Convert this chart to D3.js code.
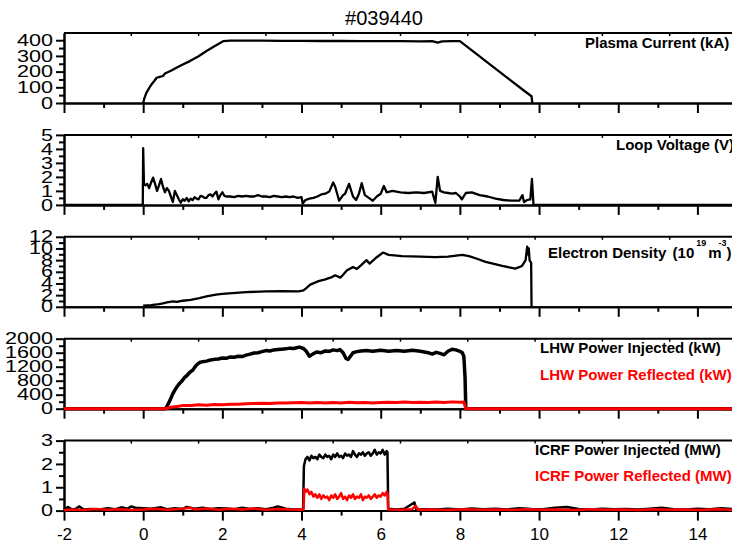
<!DOCTYPE html>
<meta charset="utf-8">

<head>
  <title>#039440</title>
  <style>
    body {
      margin: 0;
      background: #fff;
    }

    svg {
      display: block;
      font-family: Arial, "Liberation Sans", sans-serif;
    }
  </style>

  <script src="https://d3js.org/d3.v7.min.js"></script>
</head>

<body>
  <svg width="732" height="543"></svg>

  <script>

    // Plasma current (kA)
    var ipTime = [0, 0.03, 0.08, 0.15, 0.21, 0.28, 0.34, 0.42, 0.5, 0.55, 0.7, 0.84, 1.0, 1.18, 1.4, 1.6, 1.8, 2.02,
      2.2, 2.5, 3, 3.5, 4, 4.5, 5, 5.5, 6, 6.5, 7, 7.3, 7.44, 7.55, 7.8, 8.0, 8.4, 8.8, 9.2, 9.64, 9.81, 9.83];
    var ipVals = [0, 30, 65, 95, 118, 140, 161, 167, 172, 188, 205, 225, 245, 267, 298, 331, 362, 394,
      397, 398, 397, 396, 396, 395, 395, 394, 394, 394, 393, 394, 385, 393, 394, 394, 316, 238, 160, 75, 43, 0];

    // Loop voltage (V)
    var vlTime = [-2, -0.01, 0, 0.02, 0.05, 0.1, 0.15, 0.2, 0.25, 0.3, 0.35, 0.4, 0.45, 0.5, 0.55, 0.6, 0.65, 0.7,
      0.75, 0.8, 0.85, 0.9, 0.95, 1.0, 1.05, 1.1, 1.15, 1.2, 1.25, 1.3, 1.35, 1.4, 1.45, 1.5, 1.55, 1.6, 1.65, 1.7,
      1.75, 1.8, 1.85, 1.9, 1.95, 2.0, 2.05, 2.1, 2.2, 2.3, 2.4, 2.5, 2.6, 2.7, 2.8, 2.9, 3.0, 3.1, 3.2, 3.3, 3.4,
      3.5, 3.6, 3.7, 3.8, 3.9, 4.0, 4.03, 4.1, 4.2, 4.3, 4.4, 4.5, 4.6, 4.7, 4.8, 4.85, 4.95, 5.05, 5.1, 5.2, 5.3,
      5.38, 5.45, 5.52, 5.6, 5.7, 5.8, 5.9, 6.0, 6.08, 6.15, 6.3, 6.5, 6.7, 6.9, 7.1, 7.3, 7.38, 7.44, 7.5, 7.6,
      7.7, 7.8, 7.9, 8.0, 8.05, 8.15, 8.3, 8.5, 8.7, 8.9, 9.1, 9.3, 9.5, 9.58, 9.62, 9.7, 9.78, 9.82, 9.86, 15];
    var vlVals = [0, 0, 4.05, 1.5, 1.4, 1.5, 1.2, 1.6, 1.95, 1.5, 1.0, 1.4, 1.85, 1.3, 0.9, 1.2, 1.0, 0.6,
      0.2, 1.0, 0.7, 0.4, 0.15, 0.4, 0.3, 0.5, 0.25, 0.45, 0.35, 0.55, 0.45, 0.4, 0.65, 0.6, 0.5, 0.5, 0.7, 0.75,
      0.6, 0.8, 0.95, 0.4, 0.7, 0.9, 0.65, 0.6, 0.6, 0.55, 0.65, 0.6, 0.65, 0.6, 0.6, 0.7, 0.6, 0.6, 0.55, 0.65, 0.6,
      0.55, 0.6, 0.55, 0.6, 0.5, 0.55, 0.1, 0.35, 0.45, 0.5, 0.6, 0.75, 0.8, 0.95, 1.6, 1.3, 0.3, 0.7, 0.8, 1.5, 0.6,
      0.35, 0.8, 1.55, 0.7, 0.5, 0.3, 0.6, 0.8, 1.35, 0.9, 1.0, 0.9, 0.85, 0.9, 0.85, 0.95, 0.15, 2.0, 1.0, 0.9,
      0.85, 0.8, 0.85, 0.6, 0.4, 0.85, 0.9, 0.7, 0.6, 0.45, 0.35, 0.3, 0.3, 0.7, 0.2, 0.35, 0.4, 1.85, 0, 0];

    // Electron density (1e19 m^-3)
    var neTime = [0, 0.2, 0.4, 0.5, 0.6, 0.76, 0.85, 1.0, 1.2, 1.42, 1.6, 1.84, 2.0, 2.25, 2.6, 3.1, 3.5, 3.93, 4.05,
      4.12, 4.22, 4.43, 4.6, 4.77, 4.85, 4.98, 5.05, 5.15, 5.3, 5.4, 5.5, 5.64, 5.72, 5.9, 6.06, 6.2, 6.54, 7.0,
      7.38, 7.7, 8.06, 8.23, 8.45, 8.65, 9.07, 9.4, 9.57, 9.66, 9.7, 9.72, 9.74, 9.76, 9.8, 9.81];
    var neVals = [0.2, 0.3, 0.45, 0.6, 0.75, 0.93, 0.85, 1.04, 1.2, 1.5, 1.8, 2.1, 2.2, 2.35, 2.5, 2.66, 2.7, 2.66, 2.8,
      3.2, 3.8, 4.4, 4.7, 5.1, 5.4, 5.0, 5.5, 6.26, 6.8, 6.5, 7.1, 8.0, 7.4, 8.5, 9.3, 8.9, 8.7, 8.6,
      8.5, 8.6, 8.9, 8.7, 8.2, 7.7, 7.0, 6.55, 7.0, 8.0, 10.3, 9.0, 10.0, 8.0, 7.5, 0];

    // LHW power injected / reflected (kW)
    var lhwTime = [-2, 0.55, 0.6, 0.65, 0.7, 0.75, 0.8, 0.85, 0.9, 0.96, 1.0, 1.05, 1.1, 1.15, 1.2, 1.25, 1.3, 1.35,
      1.4, 1.45, 1.5, 1.6, 1.7, 1.8, 1.9, 2.0, 2.1, 2.2, 2.3, 2.4, 2.5, 2.6, 2.7, 2.8, 2.9, 3.0, 3.1, 3.2, 3.3, 3.4,
      3.5, 3.6, 3.7, 3.8, 3.9, 3.95, 4.05, 4.12, 4.2, 4.28, 4.38, 4.5, 4.6, 4.7, 4.8, 4.9, 4.97, 5.05, 5.12, 5.18,
      5.25, 5.3, 5.4, 5.5, 5.64, 5.8, 6.0, 6.2, 6.4, 6.6, 6.8, 7.0, 7.1, 7.2, 7.3, 7.4, 7.5, 7.6, 7.7, 7.8, 7.9,
      8.0, 8.06, 8.1, 8.13, 8.15, 15];
    var lhwInj = [0, 0, 60, 180, 300, 430, 530, 620, 700, 770, 820, 900, 940, 1010, 1060, 1100, 1180, 1250,
      1300, 1330, 1340, 1360, 1390, 1410, 1420, 1450, 1440, 1480, 1470, 1500, 1490, 1530, 1560, 1590, 1600, 1630,
      1660, 1650, 1680, 1690, 1700, 1710, 1730, 1720, 1750, 1760, 1720, 1640, 1500, 1560, 1620, 1600, 1650, 1640,
      1680, 1660, 1690, 1600, 1440, 1410, 1520, 1600, 1630, 1650, 1660, 1640, 1670, 1640, 1660, 1640, 1670, 1640,
      1620, 1600, 1560, 1610, 1580, 1540, 1640, 1700, 1680, 1640, 1600, 1500, 900, 0, 0];
    var lhwRefTime = [-2, 0.55, 0.7, 0.9, 1.0, 1.2, 1.4, 1.6, 1.8, 2.0, 2.2, 2.4, 2.6, 2.8, 3.0, 3.2, 3.4, 3.6,
      3.8, 4.0, 4.2, 4.4, 4.6, 4.8, 5.0, 5.2, 5.4, 5.6, 5.8, 6.0, 6.2, 6.4, 6.6, 6.8, 7.0, 7.2, 7.4, 7.6, 7.8, 8.0,
      8.1, 8.15, 15];
    var lhwRef = [0, 0, 40, 70, 95, 90, 110, 100, 120, 115, 130, 125, 140, 150, 155, 150, 165, 160,
      170, 175, 160, 180, 165, 175, 160, 185, 170, 175, 165, 180, 185, 175, 190, 180, 185, 175, 190, 180, 195, 185,
      190, 0, 0];

    // ICRF power injected / reflected (MW)
    var icInjTime = [-2, -1.9, -1.8, -1.7, -1.62, -1.5, -1.3, -1.1, -0.9, -0.7, -0.55, -0.4, -0.3, -0.2, 0, 0.2,
      0.45, 0.6, 0.8, 1.0, 1.1, 1.3, 1.5, 1.7, 1.9, 2.1, 2.3, 2.5, 2.7, 2.9, 3.1, 3.3, 3.4, 3.6, 3.8, 4.0, 4.04,
      4.06, 4.1, 4.15, 4.2, 4.25, 4.3, 4.35, 4.4, 4.45, 4.5, 4.55, 4.6, 4.65, 4.7, 4.75, 4.8, 4.85, 4.9, 4.95, 5.0,
      5.05, 5.1, 5.15, 5.2, 5.25, 5.3, 5.35, 5.4, 5.45, 5.5, 5.55, 5.6, 5.65, 5.7, 5.75, 5.8, 5.85, 5.9, 5.95,
      6.0, 6.05, 6.1, 6.15, 6.17, 6.19, 6.4, 6.6, 6.85, 6.9, 7.1, 7.4, 7.7, 8.0, 8.3, 8.6, 8.9, 9.2, 9.5, 9.8,
      10.1, 10.4, 10.7, 11.0, 11.3, 11.6, 11.9, 12.2, 12.5, 12.8, 13.1, 13.4, 13.7, 14.0, 14.3, 14.6, 14.9];
    var icInj = [0.05, 0.15, 0.05, 0.08, 0.18, 0.05, 0.07, 0.05, 0.1, 0.06, 0.14, 0.08, 0.18, 0.12, 0.1, 0.08,
      0.14, 0.06, 0.1, 0.07, 0.16, 0.08, 0.12, 0.07, 0.1, 0.09, 0.06, 0.12, 0.07, 0.1, 0.06, 0.12, 0.18, 0.08, 0.05,
      0.05, 0.06, 1.9, 2.2, 2.3, 2.15, 2.35, 2.25, 2.3, 2.2, 2.4, 2.3, 2.25, 2.4, 2.3, 2.35, 2.2, 2.4, 2.3, 2.45,
      2.3, 2.35, 2.25, 2.45, 2.35, 2.4, 2.3, 2.55, 2.4, 2.3, 2.45, 2.4, 2.5, 2.35, 2.45, 2.5, 2.35, 2.45, 2.6,
      2.4, 2.5, 2.45, 2.6, 2.4, 2.55, 2.5, 0.08, 0.05, 0.08, 0.35, 0.05, 0.06, 0.05, 0.08, 0.05, 0.09, 0.06, 0.08,
      0.05, 0.1, 0.07, 0.06, 0.12, 0.15, 0.07, 0.05, 0.08, 0.06, 0.07, 0.05, 0.08, 0.12, 0.06, 0.05, 0.08, 0.06,
      0.1, 0.07];
    var icRefTime = [-2, -1.8, -1.5, -1.2, -0.9, -0.6, -0.3, 0, 0.3, 0.6, 0.9, 1.2, 1.3, 1.6, 1.9, 2.2, 2.5, 2.8,
      3.1, 3.4, 3.7, 4.0, 4.05, 4.07, 4.1, 4.15, 4.2, 4.25, 4.3, 4.35, 4.4, 4.45, 4.5, 4.55, 4.6, 4.65, 4.7, 4.75,
      4.8, 4.85, 4.9, 4.95, 5.0, 5.05, 5.1, 5.15, 5.2, 5.25, 5.3, 5.35, 5.4, 5.45, 5.5, 5.55, 5.6, 5.65, 5.7, 5.75,
      5.8, 5.85, 5.9, 5.95, 6.0, 6.05, 6.1, 6.15, 6.17, 6.19, 6.5, 6.8, 6.88, 6.95, 7.3, 7.7, 8.1, 8.5, 8.9, 9.3,
      9.7, 10.1, 10.5, 10.9, 11.3, 11.7, 12.1, 12.5, 12.9, 13.3, 13.7, 14.1, 14.5, 14.9];
    var icRef = [0.02, 0.05, 0.03, 0.07, 0.04, 0.06, 0.03, 0.05, 0.08, 0.04, 0.07, 0.12, 0.05, 0.09, 0.04, 0.08,
      0.05, 0.09, 0.04, 0.07, 0.05, 0.04, 0.05, 0.95, 0.8, 0.9, 0.7, 0.8, 0.6, 0.7, 0.55, 0.7, 0.5, 0.65, 0.55,
      0.6, 0.45, 0.65, 0.55, 0.7, 0.5, 0.6, 0.75, 0.5, 0.6, 0.45, 0.65, 0.55, 0.7, 0.5, 0.6, 0.55, 0.7, 0.45, 0.6,
      0.55, 0.65, 0.5, 0.6, 0.7, 0.55, 0.65, 0.6, 0.75, 0.65, 0.8, 0.75, 0.05, 0.04, 0.06, 0.2, 0.04, 0.05, 0.03,
      0.06, 0.04, 0.05, 0.03, 0.06, 0.04, 0.05, 0.03, 0.06, 0.04, 0.05, 0.03, 0.06, 0.04, 0.05, 0.03, 0.06, 0.04];

    // axis tick steps per panel
    var yMax = [446, 5, 12, 2000, 3];
    var yMajor = [100, 1, 2, 400, 1];
    var yMinor = [50, 0.5, 1, 200, 0.5];
    var xMajorTicks = [-2, 0, 2, 4, 6, 8, 10, 12, 14];
    var xMinorTicks = [-1, 1, 3, 5, 7, 9, 11, 13];

    var series = [
      [[ipTime, ipVals, 'black', 2.3]],
      [[vlTime, vlVals, 'black', 2.3]],
      [[neTime, neVals, 'black', 2.3]],
      [[lhwTime, lhwInj, 'black', 3.5], [lhwRefTime, lhwRef, 'red', 3]],
      [[icInjTime, icInj, 'black', 2.5], [icRefTime, icRef, 'red', 2.5]]
    ];

    var svg = d3.select('svg');

    var x = d3.scaleLinear()
      .domain([-2, 15])
      .range([64, 737]);

    function styleAxis(sel) {
      sel.select('.domain').attr('stroke-width', 2);
      sel.selectAll('.tick line').attr('stroke-width', 2);
    }

    series.forEach(function (lines, i) {
      var top = 33 + i * 101.9;
      var y0 = top + 70;
      var y = d3.scaleLinear().domain([0, yMax[i]]).range([y0, top]);
      var g = svg.append('g');

      // top frame + its little ticks
      g.append('line')
        .attr('x1', x(-2)).attr('x2', x(15))
        .attr('y1', top).attr('y2', top)
        .attr('stroke', 'black').attr('stroke-width', 2);
      g.selectAll('.tt')
        .data(d3.range(1, 10))
        .enter().append('line')
        .attr('x1', function (k) { return x(-2 + 1.7 * k); })
        .attr('x2', function (k) { return x(-2 + 1.7 * k); })
        .attr('y1', top).attr('y2', top + 3)
        .attr('stroke', 'black').attr('stroke-width', 1.5);

      // bottom axis
      var last = i === series.length - 1;
      var bx = g.append('g')
        .attr('transform', 'translate(0,' + y0 + ')')
        .call(d3.axisBottom(x).tickValues(xMajorTicks).tickSize(10).tickSizeOuter(0).tickPadding(7)
          .tickFormat(function (d) { return last ? String(d) : ''; }))
        .call(styleAxis);
      bx.selectAll('text').attr('font-size', 17).attr('font-family', 'Arial, "Liberation Sans", sans-serif');
      g.append('g')
        .attr('transform', 'translate(0,' + y0 + ')')
        .call(d3.axisBottom(x).tickValues(xMinorTicks).tickSize(5).tickSizeOuter(0).tickFormat(''))
        .call(styleAxis);

      // left axis
      var ly = g.append('g')
        .attr('transform', 'translate(' + x(-2) + ',0)')
        .call(d3.axisLeft(y).tickValues(d3.range(0, yMax[i] + 1e-9, yMajor[i])).tickSize(8).tickSizeOuter(0)
          .tickFormat(function (d) { return String(d); }))
        .call(styleAxis);
      ly.selectAll('text')
        .attr('font-size', 16)
        .attr('font-family', 'Arial, "Liberation Sans", sans-serif')
        .attr('x', -11 / 1.35)
        .attr('transform', 'scale(1.35,1)');
      g.append('g')
        .attr('transform', 'translate(' + x(-2) + ',0)')
        .call(d3.axisLeft(y).tickValues(d3.range(yMinor[i], yMax[i], yMajor[i])).tickSize(5).tickSizeOuter(0)
          .tickFormat(''))
        .call(styleAxis);

      // traces
      lines.forEach(function (s) {
        g.append('path')
          .datum(d3.zip(s[0], s[1]))
          .attr('fill', 'none')
          .attr('stroke', s[2])
          .attr('stroke-width', s[3])
          .attr('stroke-linejoin', 'round')
          .attr('d', d3.line()
            .x(function (d) { return x(d[0]); })
            .y(function (d) { return y(d[1]); }));
      });
    });

    // title
    svg.append('text')
      .attr('x', 384).attr('y', 25)
      .attr('text-anchor', 'middle')
      .attr('font-size', 20)
      .text('#039440');

    // signal labels
    function label(txt, lx, ly, color) {
      return svg.append('text')
        .attr('x', lx).attr('y', ly)
        .attr('font-size', 15)
        .attr('font-weight', 'bold')
        .attr('fill', color || 'black')
        .text(txt);
    }
    label('Plasma Current (kA)', 585, 48);
    label('Loop Voltage (V)', 616, 149.5);
    label('LHW Power Injected (kW)', 540, 353);
    label('LHW Power Reflected (kW)', 540, 380, 'red');
    label('ICRF Power Injected (MW)', 535, 455);
    label('ICRF Power Reflected (MW)', 535, 480.5, 'red');

    var ne = label('Electron Density ', 548, 258);
    ne.append('tspan').attr('dx', 2).text('(10');
    ne.append('tspan').attr('dx', 2).attr('dy', -12).attr('font-size', 9).text('19');
    ne.append('tspan').attr('dx', 2).attr('dy', 12).text('m');
    ne.append('tspan').attr('dx', -3).attr('dy', -12).attr('font-size', 9).text('-3');
    ne.append('tspan').attr('dy', 12).text(')');
  </script>
</body>

</html>
